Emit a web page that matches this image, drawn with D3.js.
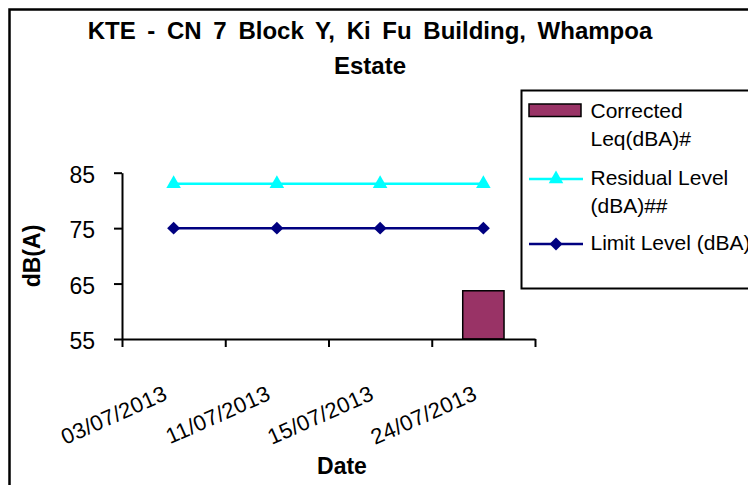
<!DOCTYPE html>
<html>
<head>
<meta charset="utf-8">
<script src="https://cdn.jsdelivr.net/npm/d3@7"></script>
<style>
  body { margin: 0; background: #fff; }
  text { font-family: Arial, "Liberation Sans", sans-serif; fill: #000; }
  .axis path, .axis line { stroke: #000; stroke-width: 2; }
</style>
</head>
<body>
<div id="chart"></div>
<script>
// data
var dates = ["03/07/2013", "11/07/2013", "15/07/2013", "24/07/2013"];
var corrected = [null, null, null, 63.7];
var residual = [83, 83, 83, 83];
var limit = [75, 75, 75, 75];
var yTicks = [55, 65, 75, 85];
var titleLines = ["KTE - CN 7 Block Y, Ki Fu Building, Whampoa", "Estate"];
var legendLabels = [["Corrected", "Leq(dBA)#"], ["Residual Level", "(dBA)##"], ["Limit Level (dBA)"]];

var width = 748,
  height = 485;

var margin = {top: 172.7, left: 122, right: 213, bottom: 146},
  plotW = width - margin.left - margin.right,
  plotH = height - margin.top - margin.bottom;

var svg = d3.select("#chart").append("svg")
  .attr("width", width)
  .attr("height", height);

// outer chart frame (runs off the right and bottom)
svg.append("rect")
  .attr("x", 9.5).attr("y", 9.5)
  .attr("width", 800).attr("height", 520)
  .attr("fill", "none").attr("stroke", "#000").attr("stroke-width", 2.5);

svg.append("text")
  .attr("x", 370)
  .attr("font-size", 24)
  .attr("font-weight", "bold")
  .attr("text-anchor", "middle")
  .style("word-spacing", "5px")
  .selectAll("tspan")
  .data(titleLines)
  .enter().append("tspan")
    .attr("x", 370)
    .attr("y", function(d, i) { return 39 + i * 35; })
    .text(function(d) { return d; });

var x = d3.scaleBand().domain(dates).range([0, plotW]).padding(0),
  xb = d3.scaleLinear().domain([0, dates.length]).range([0, plotW]),
  y = d3.scaleLinear().domain([55, 85]).range([plotH, 0]);

var g = svg.append("g")
  .attr("transform", "translate(" + margin.left + "," + margin.top + ")");

// bars
var barW = x.bandwidth() / 2.5;
g.selectAll(".bar")
  .data(dates.map(function(d, i) { return {date: d, v: corrected[i]}; }).filter(function(d) { return d.v != null; }))
  .enter().append("rect")
    .attr("class", "bar")
    .attr("x", function(d) { return x(d.date) + (x.bandwidth() - barW) / 2; })
    .attr("y", function(d) { return y(d.v); })
    .attr("width", barW)
    .attr("height", function(d) { return plotH - y(d.v); })
    .attr("fill", "#993366")
    .attr("stroke", "#000")
    .attr("stroke-width", 1.5);

// x axis: boundary ticks + centred rotated labels
g.append("g")
  .attr("class", "axis")
  .attr("transform", "translate(0," + plotH + ")")
  .call(d3.axisBottom(xb).tickValues(d3.range(dates.length + 1)).tickFormat("").tickSize(8).tickSizeOuter(0));

var xl = g.append("g")
  .attr("class", "axis")
  .attr("transform", "translate(0," + plotH + ")")
  .call(d3.axisBottom(x).tickSize(0));
xl.select(".domain").remove();
xl.selectAll("text")
  .attr("x", 0).attr("y", 0).attr("dy", 0)
  .attr("font-size", 22)
  .style("letter-spacing", "0.3px")
  .style("font-family", "Arial, 'Liberation Sans', sans-serif")
  .style("text-anchor", "end")
  .attr("transform", "translate(-5,60) rotate(-24)");

// y axis
var ya = g.append("g")
  .attr("class", "axis")
  .call(d3.axisLeft(y).tickValues(yTicks).tickSize(8).tickSizeOuter(0).tickPadding(19));
ya.selectAll("text")
  .attr("font-size", 23)
  .attr("dy", "0.42em")
  .style("font-family", "Arial, 'Liberation Sans', sans-serif");

// lines
function drawSeries(values, color, symbol, size, rot) {
  var line = d3.line()
    .x(function(d, i) { return x(dates[i]) + x.bandwidth() / 2; })
    .y(function(d) { return y(d); });
  g.append("path")
    .datum(values)
    .attr("d", line)
    .attr("fill", "none")
    .attr("stroke", color)
    .attr("stroke-width", 2.5);
  g.selectAll(null)
    .data(values)
    .enter().append("path")
      .attr("d", d3.symbol().type(symbol).size(size))
      .attr("transform", function(d, i) {
        return "translate(" + (x(dates[i]) + x.bandwidth() / 2) + "," + y(d) + ") rotate(" + rot + ")";
      })
      .attr("fill", color);
}
drawSeries(limit, "#000080", d3.symbolSquare, 84, 45);
drawSeries(residual, "#00ffff", d3.symbolTriangle, 92, 0);

// axis titles
svg.append("text")
  .attr("x", 342).attr("y", 473.5)
  .attr("text-anchor", "middle")
  .attr("font-size", 23)
  .attr("font-weight", "bold")
  .text("Date");

svg.append("text")
  .attr("transform", "translate(39.5,256) rotate(-90)")
  .attr("text-anchor", "middle")
  .attr("font-size", 23)
  .attr("font-weight", "bold")
  .text("dB(A)");

// legend
var lg = svg.append("g");
lg.append("rect")
  .attr("x", 521.5).attr("y", 90.5)
  .attr("width", 300).attr("height", 198)
  .attr("fill", "#fff").attr("stroke", "#000").attr("stroke-width", 2);

var legendY = [118.3, 185, 250];
lg.append("rect")
  .attr("x", 529).attr("y", 104)
  .attr("width", 52).attr("height", 12.5)
  .attr("fill", "#993366").attr("stroke", "#000").attr("stroke-width", 1.5);

[[1, "#00ffff", d3.symbolTriangle, 92, 0], [2, "#000080", d3.symbolSquare, 84, 45]].forEach(function(s) {
  var ly = legendY[s[0]] - 6;
  lg.append("line")
    .attr("x1", 529).attr("x2", 583)
    .attr("y1", ly).attr("y2", ly)
    .attr("stroke", s[1]).attr("stroke-width", 2.5);
  lg.append("path")
    .attr("d", d3.symbol().type(s[2]).size(s[3]))
    .attr("transform", "translate(556," + ly + ") rotate(" + s[4] + ")")
    .attr("fill", s[1]);
});

legendLabels.forEach(function(lines, i) {
  lg.append("text")
    .attr("font-size", 21)
    .selectAll("tspan")
    .data(lines)
    .enter().append("tspan")
      .attr("x", 590.5)
      .attr("y", function(d, j) { return legendY[i] + j * 28; })
      .text(function(d) { return d; });
});
</script>
</body>
</html>
